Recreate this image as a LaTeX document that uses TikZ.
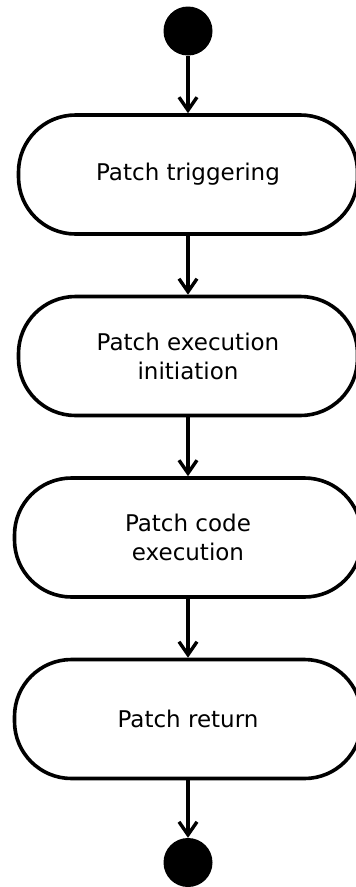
\documentclass[tikz,border=0pt]{standalone}
\usepackage{fontspec}
\setmainfont{DejaVu Sans}
\usetikzlibrary{arrows.meta}
\begin{document}
\begin{tikzpicture}[x=1pt,y=1pt,
  act/.style={draw, line width=3.6pt, rectangle, rounded corners=57pt,
    minimum height=119pt, align=center, font=\fontsize{23}{29}\selectfont, fill=white},
  dot/.style={circle, fill=black, minimum size=49pt, inner sep=0pt},
  arr/.style={line width=3.4pt, -{Straight Barb[length=13pt,width=18pt,line width=3.4pt]}}]
\useasboundingbox (0,0) rectangle (356,-887);
\node[dot] (s) at (188,-31) {};
\node[act, minimum width=339pt] (b1) at (188,-174.5) {Patch triggering};
\node[act, minimum width=339pt] (b2) at (188,-356) {Patch execution\\initiation};
\node[act, minimum width=347pt] (b3) at (188,-537.5) {Patch code\\execution};
\node[act, minimum width=347pt] (b4) at (188,-719) {Patch return};
\node[dot] (e) at (188,-862.5) {};
\draw[arr] (s) -- (b1);
\draw[arr] (b1) -- (b2);
\draw[arr] (b2) -- (b3);
\draw[arr] (b3) -- (b4);
\draw[arr] (b4) -- (e);
\end{tikzpicture}
\end{document}
